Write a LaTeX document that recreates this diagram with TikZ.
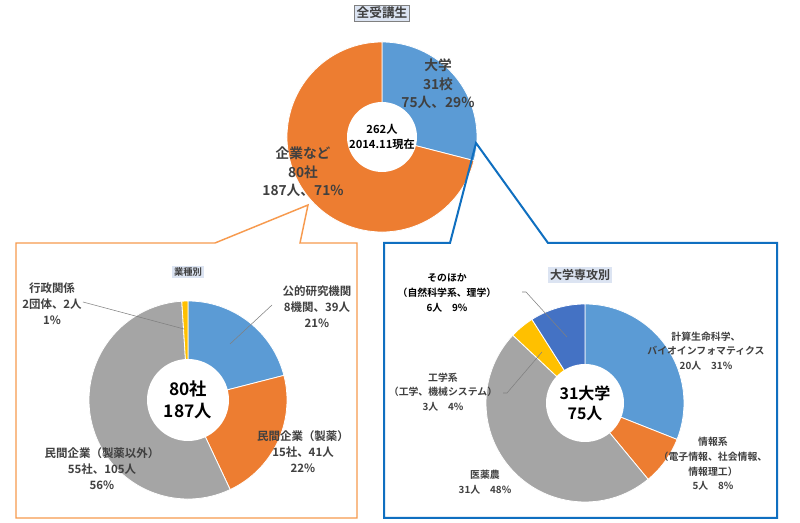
\documentclass[tikz,border=0pt]{standalone}
\usepackage{fontspec}
\setmainfont{Noto Sans CJK JP}[BoldFont={Noto Sans CJK JP Bold}]
\usetikzlibrary{positioning}
\definecolor{cBlue}{HTML}{5B9BD5}
\definecolor{cOrange}{HTML}{ED7D31}
\definecolor{cGray}{HTML}{A5A5A5}
\definecolor{cYellow}{HTML}{FFC000}
\definecolor{cNavy}{HTML}{4472C4}
\definecolor{cText}{HTML}{404040}
\definecolor{cTitle}{HTML}{DCE4F2}
\definecolor{cFrameO}{HTML}{F79A4E}
\definecolor{cFrameB}{HTML}{0F6FC0}

\begin{document}
\begin{tikzpicture}[x=0.75pt, y=0.75pt,
    bigtxt/.style={align=center, text=cText, font=\bfseries\fontsize{10.3}{14}\selectfont},
    midtxt/.style={align=center, text=cText, font=\bfseries\fontsize{8.6}{12}\selectfont},
    smalltxt/.style={align=center, text=cText, font=\bfseries\fontsize{7.4}{11}\selectfont},
    hole/.style={align=center, text=black},
    heading/.style={fill=cTitle, inner sep=1.5pt, text=cText},
    leader/.style={draw=gray, line width=0.4pt},
    wedge/.style={draw=white, line width=0.6pt}]
\useasboundingbox[fill=white] (0,0) rectangle (800,-523);

% --- 全受講生 ---
\coordinate (zen) at (382,-137);
\node[heading, draw=gray, font=\bfseries\fontsize{9.5}{11}\selectfont] (zentitle) at (382,-13) {全受講生};
\foreach \a/\b/\c in {90/-14.4/cBlue, -14.4/-270/cOrange}
    \fill[\c, wedge] (zen) -- ++(\a:95) arc[start angle=\a, end angle=\b, radius=95] -- cycle;
\fill[white] (zen) circle[radius=35];
\node[hole, font=\bfseries\fontsize{8.4}{11.5}\selectfont] (zencenter) at (zen) {262人\\2014.11現在};
\node[bigtxt] (daigaku) at (438,-84) {大学\\31校\\75人、29\%};
\node[bigtxt] (kigyo) at (303,-172) {企業など\\80社\\187人、71\%};

% --- callouts ---
\draw[cFrameO, line width=1.1pt] (16,-243) -- (215,-243) -- (308,-205) -- (300,-243)
    -- (357,-243) -- (357,-518) -- (16,-518) -- cycle;
\draw[cFrameB, line width=1.5pt] (384,-243) -- (450,-243) -- (476,-143) -- (548,-243)
    -- (777,-243) -- (777,-518) -- (384,-518) -- cycle;

% --- 業種別 ---
\coordinate (gyo) at (188,-400);
\node[heading, font=\bfseries\fontsize{7}{8}\selectfont] (gyotitle) at (188,-272) {業種別};
\foreach \a/\b/\c in {90/14.4/cBlue, 14.4/-64.8/cOrange, -64.8/-266.4/cGray, -266.4/-270/cYellow}
    \fill[\c, wedge] (gyo) -- ++(\a:99) arc[start angle=\a, end angle=\b, radius=99] -- cycle;
\fill[white] (gyo) circle[radius=41];
\node[hole, font=\bfseries\fontsize{13}{16.5}\selectfont] (gyocenter) at (gyo) {80社\\187人};
\node[midtxt] (gyosei) at (52,-304) {行政関係\\2団体、2人\\1\%};
\node[midtxt] (koteki) at (317,-307) {公的研究機関\\8機関、39人\\21\%};
\node[midtxt] (seiyaku) at (303,-452) {民間企業（製薬）\\15社、41人\\22\%};
\node[midtxt] (igai) at (102,-469) {民間企業（製薬以外）\\55社、105人\\56\%};
\coordinate (gyoseiA) at (83,-302);
\coordinate (gyoseiB) at (184,-329);
\coordinate (kotekiA) at (272,-305);
\coordinate (kotekiB) at (230,-344);
\draw[leader] (gyoseiA) -- (gyoseiB);
\draw[leader] (kotekiA) -- (kotekiB);

% --- 大学専攻別 ---
\coordinate (sen) at (585,-403);
\node[heading, font=\bfseries\fontsize{9}{11}\selectfont] (sentitle) at (580,-275) {大学専攻別};
\foreach \a/\b/\c in {90/-21.6/cBlue, -21.6/-50.4/cOrange, -50.4/-223.2/cGray, -223.2/-237.6/cYellow, -237.6/-270/cNavy}
    \fill[\c, wedge] (sen) -- ++(\a:99) arc[start angle=\a, end angle=\b, radius=99] -- cycle;
\fill[white] (sen) circle[radius=39];
\node[hole, font=\bfseries\fontsize{12}{15}\selectfont] (sencenter) at (sen) {31大学\\75人};
\node[smalltxt, text=black] (sonota) at (447,-293) {そのほか\\（自然科学系、理学）\\6人　9\%};
\node[smalltxt] (keisan) at (706,-351) {計算生命科学、\\バイオインフォマティクス\\20人　31\%};
\node[smalltxt] (joho) at (713,-464) {情報系\\（電子情報、社会情報、\\情報理工）\\5人　8\%};
\node[smalltxt] (iyaku) at (485,-482) {医薬農\\31人　48\%};
\node[smalltxt] (kogaku) at (443,-392) {工学系\\（工学、機械システム）\\3人　4\%};
\coordinate (sonotaA) at (522,-292);
\coordinate (sonotaB) at (567,-337);
\coordinate (kogakuA) at (503,-393);
\coordinate (kogakuB) at (542,-352);
\draw[leader] (sonotaA) -- ++(4,0) -- (sonotaB);
\draw[leader] (kogakuA) -- ++(4,0) -- (kogakuB);
\end{tikzpicture}
\end{document}
